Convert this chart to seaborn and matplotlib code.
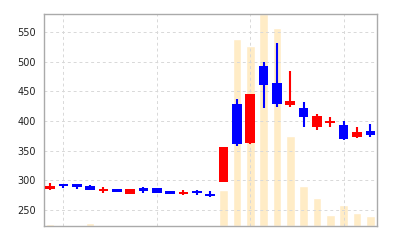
import matplotlib
matplotlib.use("Agg")
import matplotlib.pyplot as plt
import seaborn as sns
import numpy as np
import pandas as pd

# ---- data ----
opens  = [285, 294, 293, 290.5, 282, 286, 277.5, 287, 286.5, 281.5, 277, 282.5, 276.5,
          296.5, 428.5, 362, 492, 464, 426, 422, 390, 397, 392.5, 372.5, 382.5]
closes = [290, 291, 288, 283, 286, 280.5, 285, 282, 279, 277, 281, 278.5, 273.5,
          356.5, 361, 445.5, 460, 428.5, 433.5, 406, 408, 400, 369.5, 381.5, 376.5]
highs  = [295.5, 294.5, 293.5, 292.5, 289, 286, 285, 288, 286.5, 282.5, 283.5, 283, 282,
          356.5, 437, 445.5, 498.5, 530.5, 483.5, 432, 411.5, 406, 399.5, 390, 394]
lows   = [284, 286.5, 285, 283, 278, 280.5, 277.5, 279, 279, 277, 274.5, 275, 272.5,
          296.5, 358, 360.5, 422, 424, 424, 390, 385.5, 389, 368, 371, 373.5]
volumes = [1600, 1000, 0, 2600, 1300, 0, 0, 0, 0, 500, 1300, 1300, 1000,
           36300, 186600, 179600, 212000, 198000, 90300, 40300, 27600, 11300, 20600, 13000, 9600]
yticks = [250, 300, 350, 400, 450, 500, 550]
xgrid = [1, 8, 15, 22]

UP, DOWN = "#ff0000", "#0000ff"
VOLC = "#ffecc6"

sns.set_style("white")
plt.rcParams['font.family'] = ['DejaVu Sans']

fig = plt.figure(figsize=(4, 2.4), dpi=100)
ax = fig.add_axes([0.11, 0.0583, 0.8325, 0.8834])
axv = ax.twinx()
axv.set_zorder(ax.get_zorder() - 1)
ax.patch.set_visible(False)
axv.patch.set_visible(True)
axv.patch.set_facecolor("white")

n = len(opens)
idx = np.arange(n)
df = pd.DataFrame({"i": idx, "vol": volumes})
sns.barplot(data=df, x="i", y="vol", color=VOLC, width=0.65, ax=axv,
            saturation=1, native_scale=True)
axv.set_ylim(0, max(volumes))
axv.set_yticks([])
axv.set_ylabel("")
axv.set_xlabel("")
for s in axv.spines.values():
    s.set_visible(False)

o = np.array(opens); c = np.array(closes)
cols = [UP if cc >= oo else DOWN for oo, cc in zip(o, c)]
ax.vlines(idx, lows, highs, colors=cols, linewidth=1.5, zorder=3)
bottoms = np.minimum(o, c)
heights = np.maximum(np.abs(c - o), 1.5)
ax.bar(idx, heights, bottom=bottoms, width=0.72, color=cols, zorder=4, linewidth=0)

ax.set_xlim(-0.45, n - 0.5)
axv.set_xlim(-0.45, n - 0.5)
ax.set_ylim(223, 580)
ax.set_yticks(yticks)
ax.set_yticklabels([str(t) for t in yticks])
ax.set_xticks(xgrid)
ax.set_xticklabels([])
ax.tick_params(axis="y", length=0, labelsize=7, pad=6, labelcolor="#222222")
ax.tick_params(axis="x", length=3, width=0.8, color="#999999", direction="out")
ax.grid(True, linestyle=(0, (3, 3)), color="#d8d8d8", linewidth=0.7)
for s in ax.spines.values():
    s.set_visible(True)
    s.set_color("#aaaaaa")
    s.set_linewidth(1)

fig.savefig("out.png", dpi=100)
